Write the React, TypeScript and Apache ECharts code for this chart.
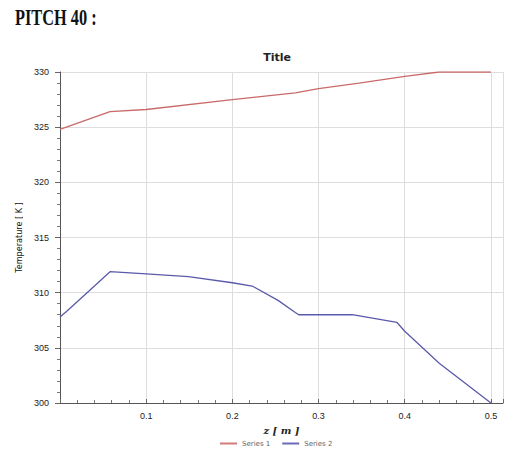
import React, { useEffect, useRef } from "react";
import * as echarts from "echarts";

const zSeries1 = [0, 0.058, 0.1, 0.2, 0.273, 0.3, 0.347, 0.4, 0.44, 0.5];
const tSeries1 = [324.8, 326.4, 326.6, 327.5, 328.1, 328.5, 329.0, 329.6, 330.0, 330.0];

const zSeries2 = [0, 0.0075, 0.033, 0.058, 0.1, 0.149, 0.2, 0.223, 0.253, 0.273, 0.277, 0.339, 0.391, 0.4, 0.44, 0.5];
const tSeries2 = [307.8, 308.3, 310.1, 311.9, 311.7, 311.45, 310.9, 310.6, 309.3, 308.2, 308.0, 308.0, 307.3, 306.5, 303.6, 300.0];

const seriesNames = ["Series 1", "Series 2"];
const pageTitle = "PITCH 40 :";
const chartTitle = "Title";
const xName = "z [ m ]";
const yName = "Temperature [ K ]";

export default function App() {
  const ref = useRef<HTMLDivElement>(null);
  useEffect(() => {
    const chart = echarts.init(ref.current!, null, { renderer: "svg" });
    const pair = (xs: number[], ys: number[]) => xs.map((x, i) => [x, ys[i]]);
    chart.setOption({
      animation: false,
      backgroundColor: "#ffffff",
      graphic: [
        {
          type: "text",
          x: 15,
          y: 17,
          scaleX: 0.71,
          style: {
            text: pageTitle,
            font: "bold 23px 'Liberation Serif'",
            fill: "#111",
            verticalAlign: "middle",
          },
        },
      ],
      title: [
        {
          text: chartTitle,
          left: 277,
          textAlign: "center",
          top: 52,
          padding: 0,
          textStyle: { fontFamily: "DejaVu Sans", fontWeight: "bold", fontSize: 11, color: "#222" },
        },
      ],
      legend: {
        bottom: 5,
        left: 220,
        padding: 0,
        itemWidth: 17,
        itemHeight: 2,
        itemGap: 12,
        icon: "rect",
        textStyle: { fontSize: 7, color: "#666", fontFamily: "DejaVu Sans" },
        data: seriesNames,
      },
      grid: { left: 60, right: 8, top: 72, bottom: 49 },
      xAxis: {
        type: "value",
        min: 0,
        max: 0.514,
        interval: 0.1,
        name: xName,
        nameLocation: "middle",
        nameGap: 15,
        nameTextStyle: { fontFamily: "DejaVu Serif", fontStyle: "italic", fontWeight: "bold", fontSize: 10, color: "#222", lineHeight: 11 },
        axisLine: { show: true, lineStyle: { color: "#555", width: 1 } },
        axisTick: { show: true, inside: true, length: 4, lineStyle: { color: "#666" } },
        minorTick: { show: true, splitNumber: 5, length: 3, lineStyle: { color: "#777" } },
        axisLabel: {
          fontSize: 9,
          color: "#222",
          margin: 8,
          formatter: (v: number) => {
            const r = Math.round(v * 10) / 10;
            if (Math.abs(v - r) > 1e-6 || r === 0) return "";
            return r.toFixed(1);
          },
        },
        splitLine: { show: true, lineStyle: { color: "#dddddd", width: 1 } },
      },
      yAxis: {
        type: "value",
        min: 300,
        max: 330,
        interval: 5,
        name: yName,
        nameLocation: "middle",
        nameGap: 35,
        nameTextStyle: { fontFamily: "DejaVu Sans Condensed", fontSize: 9, color: "#111" },
        axisLine: { show: true, lineStyle: { color: "#555", width: 1 } },
        axisTick: { show: true, length: 5, lineStyle: { color: "#666" } },
        minorTick: { show: true, splitNumber: 5, length: 3, lineStyle: { color: "#777" } },
        axisLabel: { fontSize: 9, color: "#222", margin: 11 },
        splitLine: { show: true, lineStyle: { color: "#dddddd", width: 1 } },
      },
      series: [
        {
          name: seriesNames[0],
          type: "line",
          data: pair(zSeries1, tSeries1),
          showSymbol: false,
          symbol: "none",
          lineStyle: { color: "#c96a6a", width: 1.3 },
          itemStyle: { color: "#d47a7a" },
        },
        {
          name: seriesNames[1],
          type: "line",
          data: pair(zSeries2, tSeries2),
          showSymbol: false,
          symbol: "none",
          lineStyle: { color: "#5a5aaa", width: 1.3 },
          itemStyle: { color: "#6a6ab8" },
        },
      ],
    });
    return () => chart.dispose();
  }, []);
  return <div ref={ref} style={{ position: "fixed", left: 0, top: 0, width: 511, height: 452 }} />;
}
